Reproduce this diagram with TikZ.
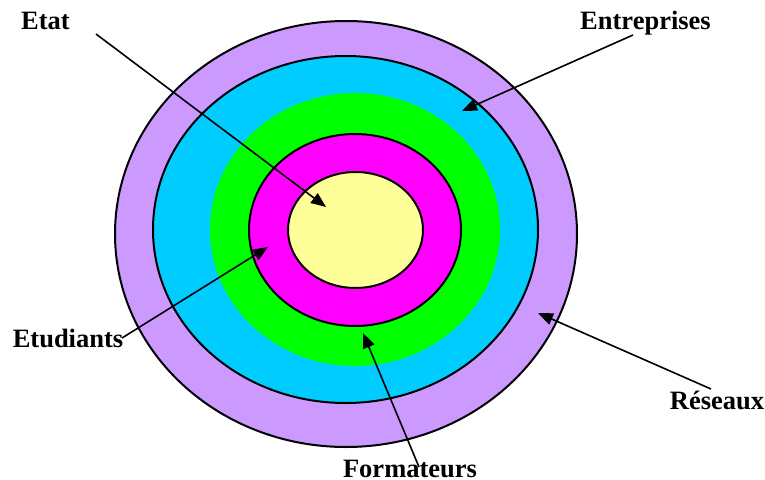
\documentclass[tikz,border=0pt]{standalone}
\usepackage{fontspec}
\setmainfont{Liberation Serif}
\usetikzlibrary{arrows.meta}
\definecolor{cpurple}{HTML}{CC99FF}
\definecolor{cblue}{HTML}{00CCFF}
\definecolor{cgreen}{HTML}{00FF00}
\definecolor{cmagenta}{HTML}{FF00FF}
\definecolor{cyellow}{HTML}{FFFF99}
\begin{document}
\begin{tikzpicture}[x=1pt,y=-1pt,
  ring/.style={draw=black,line width=2pt},
  lbl/.style={anchor=base,inner sep=0pt,font=\fontsize{26.5}{30}\selectfont\bfseries},
  pointer/.style={line width=1.6pt,-{Triangle[length=15pt,width=12pt]}}]
\useasboundingbox (0,0) rectangle (765,479);
\fill[white] (0,0) rectangle (765,479);
% rings
\filldraw[ring,fill=cpurple] (346,234) ellipse [x radius=231,y radius=213];
\filldraw[ring,fill=cblue] (345.5,229.5) ellipse [x radius=192.5,y radius=173.5];
\fill[cgreen] (355,229.5) ellipse [x radius=145,y radius=136.5];
\filldraw[ring,fill=cmagenta] (355,230) ellipse [x radius=106,y radius=96];
\filldraw[ring,fill=cyellow] (355.5,230) ellipse [x radius=67.5,y radius=58];
% labels
\node[lbl] (etat) at (45.5,29) {Etat};
\node[lbl] (entr) at (645.5,29) {Entreprises};
\node[lbl] (etud) at (68,347) {Etudiants};
\node[lbl] (res) at (717,409) {Réseaux};
\node[lbl] (form) at (410,477) {Formateurs};
% arrow endpoints
\coordinate (etatS) at (96,34);   \coordinate (etatT) at (326,207);
\coordinate (entrS) at (633,35);  \coordinate (entrT) at (462,111);
\coordinate (etudS) at (122,338); \coordinate (etudT) at (268,247);
\coordinate (resS) at (711,389);  \coordinate (resT) at (538,313);
\coordinate (formS) at (419,467); \coordinate (formT) at (363,333);
\draw[pointer] (etatS) -- (etatT);
\draw[pointer] (entrS) -- (entrT);
\draw[pointer] (etudS) -- (etudT);
\draw[pointer] (resS) -- (resT);
\draw[pointer] (formS) -- (formT);
\end{tikzpicture}
\end{document}
